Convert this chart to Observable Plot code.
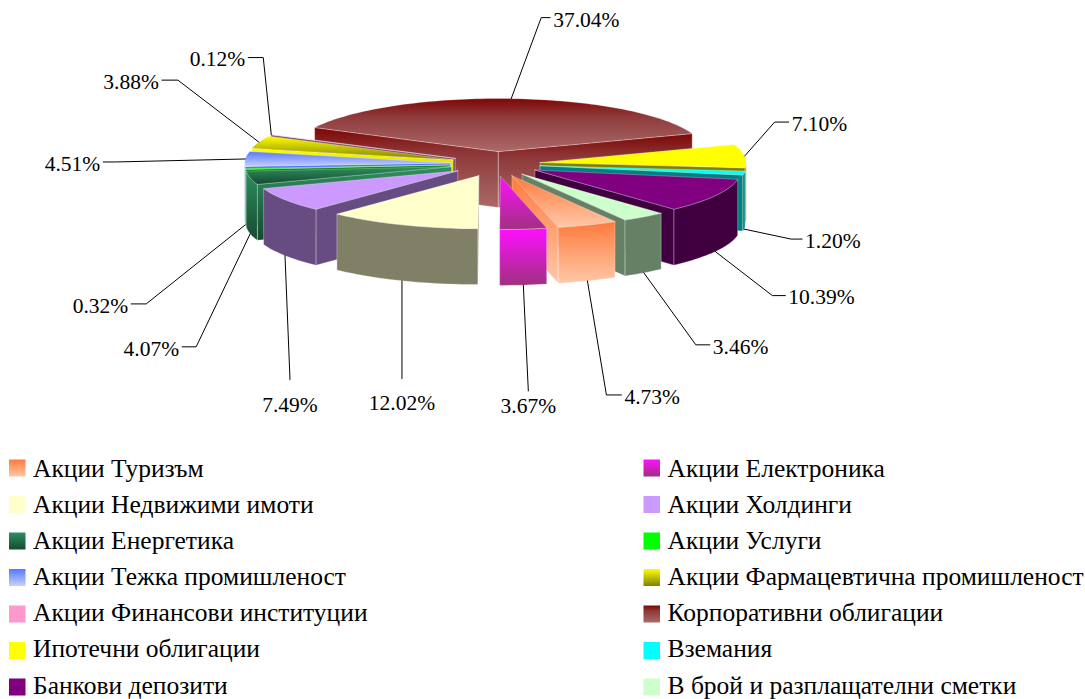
<!DOCTYPE html>
<html>
<head>
<meta charset="utf-8">
<script src="https://cdn.jsdelivr.net/npm/d3@7"></script>
<script src="https://cdn.jsdelivr.net/npm/@observablehq/plot@0.6"></script>
<style>html,body{margin:0;padding:0;background:#fff}svg{display:block}</style>
</head>
<body>
<div id="chart"></div>
<script>
// --- data, in legend order (clockwise around the pie)
const names = ["Акции Туризъм","Акции Електроника","Акции Недвижими имоти","Акции Холдинги","Акции Енергетика","Акции Услуги","Акции Тежка промишленост","Акции Фармацевтична промишленост","Акции Финансови институции","Корпоративни облигации","Ипотечни облигации","Вземания","Банкови депозити","В брой и разплащателни сметки"];
const shares = [4.73,3.67,12.02,7.49,4.07,0.32,4.51,3.88,0.12,37.04,7.10,1.20,10.39,3.46];

// --- colours: gradient stops, top to bottom, for the top face and the walls
const corporate = ["#7d0606","#8f3a3a","#9c5252","#ad6868"];
const topColors = [["#ff7a3c","#ffc8a8"],["#ff10ff","#a03080"],["#ffffcc","#ffffcc"],["#cc99ff","#cc99ff"],["#2f8f62","#154a30"],["#00ff00","#00ff00"],["#5a78ff","#c4d0ff"],["#ffff00","#808000"],["#ff99cc","#ff99cc"],corporate,["#ffff00","#ffff00"],["#00ffff","#00ffff"],["#800080","#800080"],["#ccffcc","#ccffcc"]];
const wallColors = [["#ff7a3c","#ffc8a8"],["#ff10ff","#a03080"],["#808066","#808066"],["#664c80","#664c80"],["#2f8f62","#154a30"],["#008000","#008000"],["#4a70f0","#4a70f0"],["#ffff00","#808000"],["#804c66","#804c66"],corporate,["#808000","#808000"],["#008080","#008080"],["#400040","#400040"],["#668066","#668066"]];

// --- pie layout
const W = 1085, H = 699;
const cx = 495, cy = 163.5, rx = 206, ry = 53, explodeX = 45, explodeY = 12.5, depth = 56;
const firstAngle = 150;
// leader layout: elbow offset from the slice's outer midpoint, the horizontal tail, gap down to the label
const elbowOffsets = [[19,114],[5,106],[0,98],[5,124],[-54,113],[-99,79],[-130,3],[-81,-62],[-8,-77],[30,-81],[30,-34],[47,10],[57,44],[52,72]];
const tails = [15,0,0,0,-14,-15,-12,-16,-15,9,14,11,13,14];
const labelGaps = [0,15,24,25,0,0,0,0,0,0,0,0,0,0];

// --- geometry derived from the shares
const rad = d => d * Math.PI / 180;
let running = firstAngle;
const slices = shares.map((v, i) => {
  const a0 = running, a1 = running + v * 3.6;
  running = a1;
  const mid = (a0 + a1) / 2;
  const ax = cx + explodeX * Math.sin(rad(mid));
  const ay = cy - explodeY * Math.cos(rad(mid));
  return {i, v, a0, a1, mid, ax, ay};
});
const rim = (s, a, dz = 0) => ({x: s.ax + rx * Math.sin(rad(a)), y: s.ay - ry * Math.cos(rad(a)) + dz});
const arc = (s, from, to, dz = 0) => {
  const n = Math.max(1, Math.ceil((to - from) / 1.5));
  return d3.range(n + 1).map(k => rim(s, from + (to - from) * k / n, dz));
};
const face = (pts, gid, extra = {}) => Plot.line(pts, {x: "x", y: "y", fill: `url(#${gid})`, stroke: "none", ...extra});

function sliceMarks(s) {
  const out = [];
  const apex = {x: s.ax, y: s.ay}, apexLow = {x: s.ax, y: s.ay + depth};
  const edge = {stroke: "#fff", strokeOpacity: 0.45, strokeWidth: 0.7};
  const norm = a => ((a % 360) + 360) % 360;
  const cuts = [];
  if (norm(s.a0) > 180) cuts.push(s.a0);
  if (norm(s.a1) < 180) cuts.push(s.a1);
  for (const a of cuts) {
    out.push(face([apex, rim(s, a), rim(s, a, depth), apexLow, apex], "w" + s.i, edge));
  }
  const base = Math.floor(s.a0 / 360) * 360;
  for (const k of [0, 360]) {
    const from = Math.max(s.a0, base + k + 90), to = Math.min(s.a1, base + k + 270);
    if (to > from) {
      out.push(face([...arc(s, from, to), ...arc(s, from, to, depth).reverse(), rim(s, from)], "w" + s.i, edge));
    }
  }
  out.push(face([apex, ...arc(s, s.a0, s.a1), apex], "t" + s.i, {stroke: "#fff", strokeOpacity: 0.45, strokeWidth: 0.6}));
  return out;
}
const paintOrder = [...slices].sort((a, b) => {
  const d = s => Math.abs(((s.mid % 360) + 360) % 360 - 180);
  return d(b) - d(a);
});

const defs = () => {
  const g = d3.create("svg:defs");
  const add = (id, stops) => {
    const lg = g.append("linearGradient").attr("id", id).attr("x1", 0).attr("y1", 0).attr("x2", 0).attr("y2", 1);
    stops.forEach((c, k) => lg.append("stop").attr("offset", k / (stops.length - 1)).attr("stop-color", c));
  };
  topColors.forEach((c, i) => add("t" + i, c));
  wallColors.forEach((c, i) => add("w" + i, c));
  return g.node();
};

const leaders = slices.map((s, i) => {
  const m = ((s.mid % 360) + 360) % 360;
  const front = m > 90 && m < 270;
  const start = rim(s, s.mid, front ? depth : 0);
  const [dx, dy] = elbowOffsets[i];
  const elbow = {x: start.x + dx, y: start.y + dy};
  const end = {x: elbow.x + tails[i], y: elbow.y};
  return {i, pts: [start, elbow, end], end, tail: tails[i], label: shares[i].toFixed(2) + "%"};
});
const labelRows = leaders.map(l => ({
  label: l.label,
  x: l.tail === 0 ? l.end.x : l.end.x + Math.sign(l.tail) * 3,
  y: l.tail === 0 ? l.end.y + labelGaps[l.i] : l.end.y + 2,
  anchor: l.tail === 0 ? "middle" : l.tail > 0 ? "start" : "end"
}));

const legendRow = i => 468 + 36.5 * Math.floor(i / 2);
const legendTextRow = i => 468 + 36.15 * Math.floor(i / 2);
const legendCol = i => i % 2 === 0 ? 9 : 643.5;
const legendRows = names.map((n, i) => ({name: n, i, x: legendCol(i), y: legendRow(i), ty: legendTextRow(i)}));

const marks = [
  defs,
  ...paintOrder.flatMap(sliceMarks),
  ...leaders.map(l => Plot.line(l.pts, {x: "x", y: "y", stroke: "#000", strokeWidth: 1, curve: "linear"})),
  ...["start", "middle", "end"].map(a => Plot.text(labelRows.filter(r => r.anchor === a), {
    x: "x", y: "y", text: "label", textAnchor: a, lineAnchor: "middle",
    fontFamily: "Liberation Serif", fontSize: 21.5, fill: "#000"
  })),
  ...legendRows.map(r => Plot.rect([r], {
    x1: d => d.x, x2: d => d.x + 16.5, y1: d => d.y - 8.5, y2: d => d.y + 8.5,
    fill: `url(#t${r.i})`
  })),
  Plot.text(legendRows, {
    x: d => d.x + 23.5, y: "ty", text: "name", textAnchor: "start", lineAnchor: "middle",
    fontFamily: "Liberation Serif", fontSize: 25.5, fill: "#000"
  })
];

const chart = Plot.plot({
  width: W, height: H,
  margin: 0,
  style: {background: "#fff"},
  x: {type: "linear", domain: [0, W], range: [0, W], axis: null},
  y: {type: "linear", domain: [0, H], range: [0, H], axis: null},
  marks
});
document.getElementById("chart").appendChild(chart);
</script>
</body>
</html>
